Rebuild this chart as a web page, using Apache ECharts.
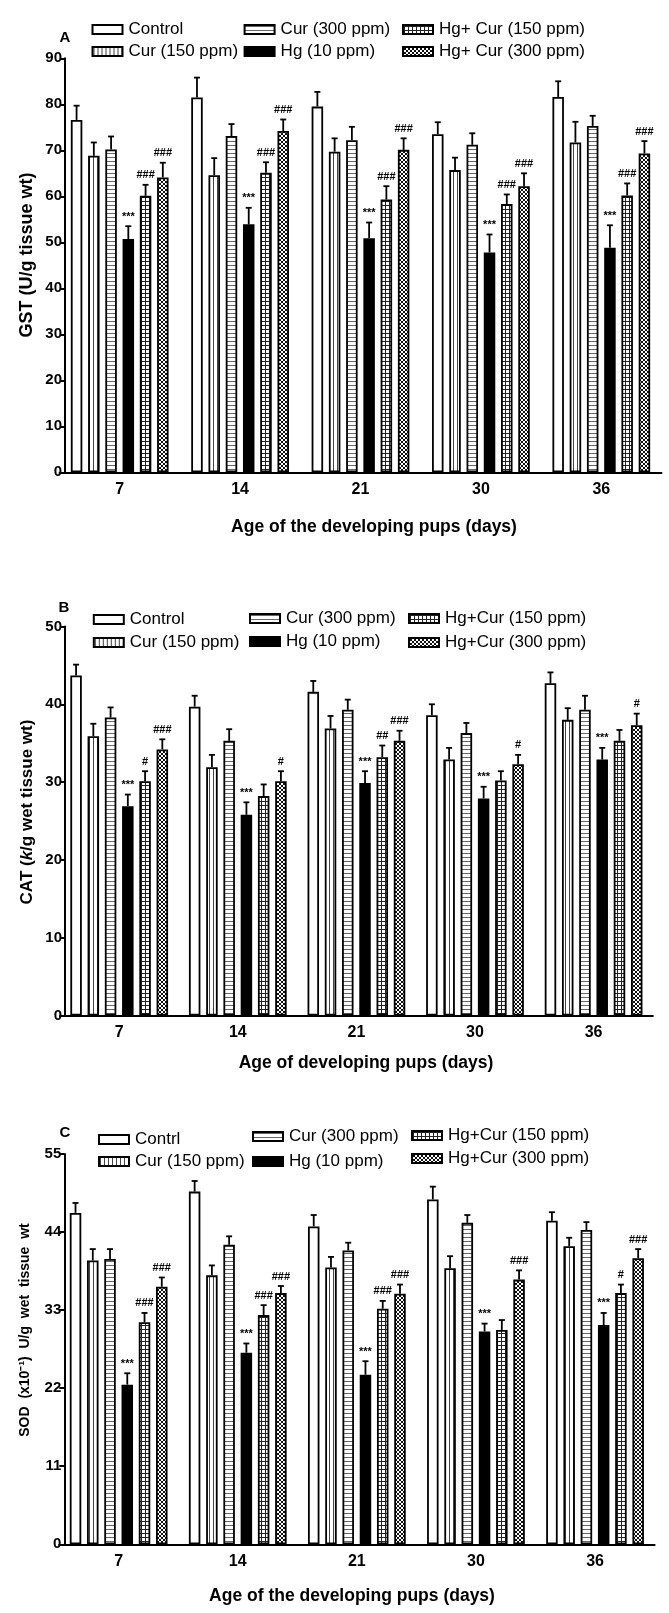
<!DOCTYPE html>
<html><head><meta charset="utf-8">
<script src="https://cdn.jsdelivr.net/npm/echarts@6/dist/echarts.min.js"></script>
<style>html,body{margin:0;padding:0;background:#fff}#c{width:669px;height:1613px}</style>
</head><body><div id="c"></div>
<script>
// ---------- DATA ----------
const categories = ['7', '14', '21', '30', '36'];

// Panel A: GST (U/g tissue wt)
const gstNames = ['Control', 'Cur (150 ppm)', 'Cur (300 ppm)', 'Hg (10 ppm)', 'Hg+ Cur (150 ppm)', 'Hg+ Cur (300 ppm)'];
const gstControl  = [76.6, 81.5, 79.5, 73.5, 81.6];
const gstCur150   = [68.8, 64.6, 69.7, 65.7, 71.7];
const gstCur300   = [70.2, 73.1, 72.2, 71.2, 75.3];
const gstHg       = [50.7, 53.9, 50.9, 47.8, 48.8];
const gstHgCur150 = [60.1, 65.1, 59.3, 58.3, 60.2];
const gstHgCur300 = [64.1, 74.2, 70.1, 62.2, 69.3];
const gstErrControl  = [3.1, 4.3, 3.2, 2.6, 3.4];
const gstErrCur150   = [2.9, 3.7, 2.9, 2.7, 4.5];
const gstErrCur300   = [2.8, 2.6, 2.9, 2.5, 2.2];
const gstErrHg       = [2.8, 3.6, 3.4, 3.9, 4.9];
const gstErrHgCur150 = [2.4, 2.3, 2.9, 2.1, 2.6];
const gstErrHgCur300 = [3.2, 2.5, 2.5, 2.8, 2.7];
const gstSigHg       = ['***', '***', '***', '***', '***'];
const gstSigHgCur150 = ['###', '###', '###', '###', '###'];
const gstSigHgCur300 = ['###', '###', '###', '###', '###'];

// Panel B: CAT (k/g wet tissue wt)
const catNames = ['Control', 'Cur (150 ppm)', 'Cur (300 ppm)', 'Hg (10 ppm)', 'Hg+Cur (150 ppm)', 'Hg+Cur (300 ppm)'];
const catControl  = [43.7, 39.7, 41.6, 38.6, 42.7];
const catCur150   = [35.9, 31.9, 36.9, 32.9, 38.0];
const catCur300   = [38.3, 35.3, 39.3, 36.3, 39.3];
const catHg       = [26.9, 25.8, 29.9, 27.9, 32.9];
const catHgCur150 = [30.1, 28.2, 33.2, 30.2, 35.3];
const catHgCur300 = [34.2, 30.1, 35.3, 32.3, 37.3];
const catErrControl  = [1.4, 1.4, 1.4, 1.4, 1.4];
const catErrCur150   = [1.6, 1.6, 1.6, 1.5, 1.5];
const catErrCur300   = [1.3, 1.5, 1.3, 1.3, 1.8];
const catErrHg       = [1.5, 1.6, 1.5, 1.5, 1.5];
const catErrHgCur150 = [1.3, 1.5, 1.5, 1.2, 1.4];
const catErrHgCur300 = [1.3, 1.3, 1.3, 1.2, 1.5];
const catSigHg       = ['***', '***', '***', '***', '***'];
const catSigHgCur150 = ['#', '', '##', '', ''];
const catSigHgCur300 = ['###', '#', '###', '#', '#'];

// Panel C: SOD (x10^-1) U/g wet tissue wt
const sodNames = ['Contrl', 'Cur (150 ppm)', 'Cur (300 ppm)', 'Hg (10 ppm)', 'Hg+Cur (150 ppm)', 'Hg+Cur (300 ppm)'];
const sodControl  = [46.7, 49.7, 44.8, 48.6, 45.6];
const sodCur150   = [40.0, 37.9, 39.0, 38.9, 42.0];
const sodCur300   = [40.2, 42.2, 41.4, 45.3, 44.3];
const sodHg       = [22.5, 27.0, 23.9, 30.0, 30.9];
const sodHgCur150 = [31.3, 32.3, 33.2, 30.2, 35.4];
const sodHgCur300 = [36.3, 35.4, 35.3, 37.3, 40.3];
const sodErrControl  = [1.4, 1.5, 1.6, 1.8, 1.2];
const sodErrCur150   = [1.6, 1.4, 1.5, 1.7, 1.2];
const sodErrCur300   = [1.4, 1.2, 1.1, 1.1, 1.1];
const sodErrHg       = [1.6, 1.3, 1.9, 1.1, 1.7];
const sodErrHgCur150 = [1.3, 1.4, 1.1, 1.4, 1.2];
const sodErrHgCur300 = [1.3, 1.0, 1.3, 1.3, 1.3];
const sodSigHg       = ['***', '***', '***', '***', '***'];
const sodSigHgCur150 = ['###', '###', '###', '', '#'];
const sodSigHgCur300 = ['###', '###', '###', '###', '###'];

// ---------- STYLE ----------
const FONT = '"Liberation Sans", Arial, Helvetica, sans-serif';
const BAR_W = 11.5, BAR_GAP = 0.5;

function pattern(kind) {
  const c = document.createElement('canvas');
  c.width = 4; c.height = 4;
  const g = c.getContext('2d');
  g.fillStyle = '#fff'; g.fillRect(0, 0, 4, 4);
  if (kind === 'v') { g.fillStyle = '#444'; g.fillRect(1, 0, 1, 4); }
  if (kind === 'h') { g.fillStyle = '#666'; g.fillRect(0, 1, 4, 1); }
  if (kind === 'grid') { g.fillStyle = '#222'; g.fillRect(0, 1, 4, 1); g.fillRect(1, 0, 1, 4); }
  if (kind === 'x') {
    g.fillStyle = '#111';
    for (let i = 0; i < 4; i++) { g.fillRect(i, i, 1, 1); g.fillRect(3 - i, i, 1, 1); }
  }
  return { image: c, repeat: 'repeat' };
}
const fills = ['#ffffff', pattern('v'), pattern('h'), '#000000', pattern('grid'), pattern('x')];

const panels = [
  { letter: 'A', names: gstNames,
    values: [gstControl, gstCur150, gstCur300, gstHg, gstHgCur150, gstHgCur300],
    errors: [gstErrControl, gstErrCur150, gstErrCur300, gstErrHg, gstErrHgCur150, gstErrHgCur300],
    sigs: [null, null, null, gstSigHg, gstSigHgCur150, gstSigHgCur300],
    grid: { left: 59.5, top: 58.3, width: 602, height: 414 }, yMax: 90, yInt: 10, yOff: -5.5,
    legend: [[91.5, 30], [91.5, 52], [243.6, 30], [243.6, 52], [402, 30], [402, 52]],
    letterPos: [65, 37.5] },
  { letter: 'B', names: catNames,
    values: [catControl, catCur150, catCur300, catHg, catHgCur150, catHgCur300],
    errors: [catErrControl, catErrCur150, catErrCur300, catErrHg, catErrHgCur150, catErrHgCur300],
    sigs: [null, null, null, catSigHg, catSigHgCur150, catSigHgCur300],
    grid: { left: 59.9, top: 626.5, width: 593, height: 389 }, yMax: 50, yInt: 10, yOff: -5.1,
    legend: [[92.8, 620], [92.8, 643], [249, 619], [249, 642], [408, 619], [408, 643]],
    letterPos: [64, 608] },
  { letter: 'C', names: sodNames,
    values: [sodControl, sodCur150, sodCur300, sodHg, sodHgCur150, sodHgCur300],
    errors: [sodErrControl, sodErrCur150, sodErrCur300, sodErrHg, sodErrHgCur150, sodErrHgCur300],
    sigs: [null, null, null, sodSigHg, sodSigHgCur150, sodSigHgCur300],
    grid: { left: 59.1, top: 1154, width: 595.5, height: 390.3 }, yMax: 55, yInt: 11, yOff: -5.2,
    legend: [[98, 1140], [98, 1162], [252, 1137], [252, 1162], [411, 1136], [411, 1159]],
    letterPos: [65, 1133] }
];

const grids = [], xAxes = [], yAxes = [], series = [], legends = [], graphics = [];

panels.forEach((p, k) => {
  grids.push(p.grid);
  xAxes.push({
    type: 'category', gridIndex: k, data: categories,
    axisLine: { lineStyle: { color: '#000', width: 2 } },
    axisTick: { show: false },
    axisLabel: { color: '#000', fontFamily: FONT, fontWeight: 'bold', fontSize: 16, margin: 9 }
  });
  yAxes.push({
    type: 'value', gridIndex: k, min: 0, max: p.yMax, interval: p.yInt, offset: p.yOff,
    axisLine: { show: true, lineStyle: { color: '#000', width: 2 } },
    axisTick: { show: true, length: 5, lineStyle: { color: '#000', width: 2 } },
    axisLabel: { color: '#000', fontFamily: FONT, fontWeight: 'bold', fontSize: 15, margin: 3 },
    splitLine: { show: false }
  });
  p.names.forEach((nm, j) => {
    series.push({
      type: 'bar', name: nm, xAxisIndex: k, yAxisIndex: k,
      data: p.values[j], barWidth: BAR_W, barGap: (BAR_GAP * 100) + '%',
      itemStyle: { color: fills[j], borderColor: '#000', borderWidth: 1.8 },
      animation: false, silent: true, z: 2
    });
    legends.push({
      left: p.legend[j][0], top: p.legend[j][1] - 9, padding: 0, orient: 'horizontal',
      data: [nm], icon: 'rect', itemWidth: 30, itemHeight: 9, selectedMode: false,
      textStyle: { color: '#000', fontFamily: FONT, fontSize: 17, padding: [0, 0, 0, 1] }
    });
  });
  // error bars + significance marks
  const errData = [], sigText = [];
  for (let j = 0; j < 6; j++) {
    for (let i = 0; i < categories.length; i++) {
      errData.push([i, j, p.values[j][i], p.errors[j][i]]);
      sigText.push(p.sigs[j] ? p.sigs[j][i] : '');
    }
  }
  series.push({
    type: 'custom', xAxisIndex: k, yAxisIndex: k, data: errData, z: 5, silent: true, animation: false,
    renderItem: function (params, api) {
      const ci = api.value(0), si = api.value(1), v = api.value(2), e = api.value(3);
      const base = api.coord([ci, v]);
      const top = api.coord([ci, v + e]);
      const x = base[0] + (si - 2.5) * BAR_W * (1 + BAR_GAP);
      const st = { stroke: '#000', lineWidth: 1.8 };
      const children = [
        { type: 'line', shape: { x1: x, y1: base[1], x2: x, y2: top[1] }, style: st },
        { type: 'line', shape: { x1: x - 3, y1: top[1], x2: x + 3, y2: top[1] }, style: st }
      ];
      const t = sigText[params.dataIndex];
      if (t) {
        children.push({ type: 'text', style: { text: t, x: x, y: top[1] - 4, align: 'center', verticalAlign: 'bottom',
          fill: '#000', font: 'bold 11px ' + FONT } });
      }
      return { type: 'group', children: children };
    }
  });
  graphics.push({ type: 'text', x: p.letterPos[0], y: p.letterPos[1],
    style: { text: p.letter, align: 'center', verticalAlign: 'middle', fill: '#000', font: 'bold 15px ' + FONT } });
});

// axis titles
graphics.push({ type: 'text', x: 374, y: 527, style: { text: 'Age of the developing pups (days)', align: 'center', verticalAlign: 'middle', fill: '#000', font: 'bold 17.5px ' + FONT } });
graphics.push({ type: 'text', x: 366, y: 1063, style: { text: 'Age of developing pups (days)', align: 'center', verticalAlign: 'middle', fill: '#000', font: 'bold 17.5px ' + FONT } });
graphics.push({ type: 'text', x: 352, y: 1596, style: { text: 'Age of the developing pups (days)', align: 'center', verticalAlign: 'middle', fill: '#000', font: 'bold 17.5px ' + FONT } });
graphics.push({ type: 'text', x: 27, y: 255, rotation: Math.PI / 2, style: { text: 'GST (U/g tissue wt)', align: 'center', verticalAlign: 'middle', fill: '#000', font: 'bold 18px ' + FONT } });
graphics.push({ type: 'text', x: 27, y: 812, rotation: Math.PI / 2, style: { text: 'CAT ({i|k}/g wet tissue wt)', align: 'center', verticalAlign: 'middle', fill: '#000', font: 'bold 17px ' + FONT,
  rich: { i: { fontStyle: 'italic', fontWeight: 'bold', fontSize: 17, fontFamily: FONT, fill: '#000' } } } });
graphics.push({ type: 'text', x: 25, y: 1330, rotation: Math.PI / 2, style: { text: 'SOD  (x10\u207B\u00B9)  U/g  wet  tissue  wt', align: 'center', verticalAlign: 'middle', fill: '#000', font: 'bold 14px ' + FONT } });

const chart = echarts.init(document.getElementById('c'), null, { renderer: 'canvas' });
chart.setOption({
  animation: false,
  backgroundColor: '#fff',
  grid: grids, xAxis: xAxes, yAxis: yAxes, series: series, legend: legends,
  graphic: graphics
});
</script>
</body></html>
